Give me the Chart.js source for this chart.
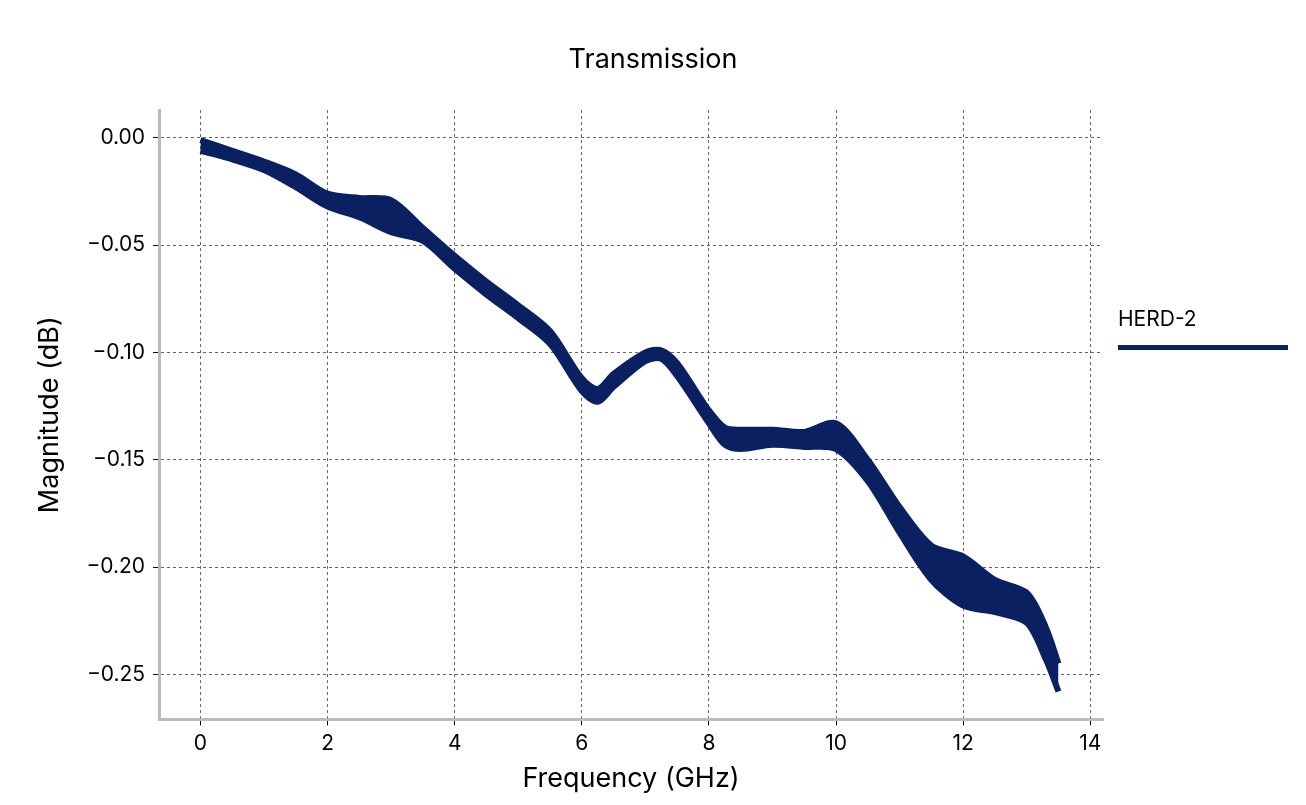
<!DOCTYPE html>
<html><head><meta charset="utf-8">
<script src="https://cdn.jsdelivr.net/npm/chart.js@4/dist/chart.umd.min.js"></script>
<style>
body{margin:0;background:#fff;font-family:Inter,"Noto Sans",sans-serif;}
#wrap{position:absolute;left:0;top:0;width:1306px;height:805px;}
#title{position:absolute;left:0;width:1306px;top:42px;text-align:center;font-size:27px;color:#000;}
#legend{position:absolute;left:1118px;top:306px;font-size:21px;color:#000;}
#legend div{width:170px;height:5px;background:#0a2060;margin-top:14px;}
</style></head>
<body>
<div id="wrap"><canvas id="myChart" width="1306" height="805"></canvas></div>
<div id="title">Transmission</div>
<div id="legend">HERD-2<div></div></div>
<script>
const freq = [0, 0.5, 1, 1.5, 2, 2.5, 3, 3.5, 4, 4.5, 5, 5.5, 6, 6.25, 6.5, 7, 7.25, 7.5, 8, 8.25, 8.5, 9, 9.5, 10, 10.5, 11, 11.5, 12, 12.5, 13, 13.3, 13.5];
const upper = [-0.001, -0.006, -0.011, -0.017, -0.026, -0.028, -0.029, -0.042, -0.055, -0.067, -0.078, -0.090, -0.112, -0.117, -0.110, -0.100, -0.099, -0.105, -0.127, -0.135, -0.136, -0.136, -0.137, -0.133, -0.150, -0.172, -0.190, -0.195, -0.206, -0.212, -0.228, -0.245];
const lower = [-0.006, -0.010, -0.015, -0.023, -0.032, -0.037, -0.044, -0.048, -0.061, -0.073, -0.084, -0.096, -0.118, -0.123, -0.116, -0.104, -0.103, -0.111, -0.133, -0.143, -0.145, -0.143, -0.144, -0.145, -0.160, -0.184, -0.206, -0.218, -0.221, -0.226, -0.243, -0.258];
const yTicks = [0, -0.05, -0.10, -0.15, -0.20, -0.25];
const color = "#0a2060";

function pts(ys) { return freq.map((f, i) => ({ x: f, y: ys[i] })); }

function initChart(chart) {
  const tickFont = { family: "Inter, 'Noto Sans'", size: 21 };
  const config = {
    type: "line",
    data: {
      datasets: [
        { label: "HERD-2", data: pts(upper), borderColor: color, borderWidth: 6, pointRadius: 0, tension: 0.3, fill: false },
        { label: "lower", data: pts(lower), borderColor: color, backgroundColor: color, borderWidth: 6, pointRadius: 0, tension: 0.3, fill: "-1" },
      ],
    },
    options: {
      responsive: false,
      animation: false,
      layout: { padding: { left: 22, right: 203, top: 110, bottom: 10 } },
      plugins: {
        legend: { display: false },
        title: { display: false },
        tooltip: { enabled: false },
      },
      scales: {
        x: {
          type: "linear", min: -0.65, max: 14.2,
          afterBuildTicks: (s) => { s.ticks = [0, 2, 4, 6, 8, 10, 12, 14].map((v) => ({ value: v })); },
          ticks: { color: "#000", font: tickFont, padding: 6 },
          grid: { color: "#666", lineWidth: 1, tickLength: 6, tickColor: "#000" },
          border: { color: "#bbb", width: 3, dash: [3, 3] },
          title: { display: true, text: "Frequency (GHz)", color: "#000", font: { family: "Inter, 'Noto Sans'", size: 27 }, padding: 0 },
        },
        y: {
          min: -0.271, max: 0.013,
          afterBuildTicks: (s) => { s.ticks = yTicks.map((v) => ({ value: v })); },
          ticks: { color: "#000", font: tickFont, padding: 8, callback: (v) => (v < 0 ? "\u2212" : "") + Math.abs(v).toFixed(2) },
          grid: { color: "#666", lineWidth: 1, tickLength: 6, tickColor: "#000" },
          border: { color: "#bbb", width: 3, dash: [3, 3] },
          title: { display: true, text: "Magnitude (dB)", color: "#000", font: { family: "Inter, 'Noto Sans'", size: 27 }, padding: 12 },
        },
      },
    },
  };
  return new Chart(chart, config);
}

document.addEventListener("DOMContentLoaded", () => initChart(document.querySelector("#myChart")));
</script>
</body></html>
